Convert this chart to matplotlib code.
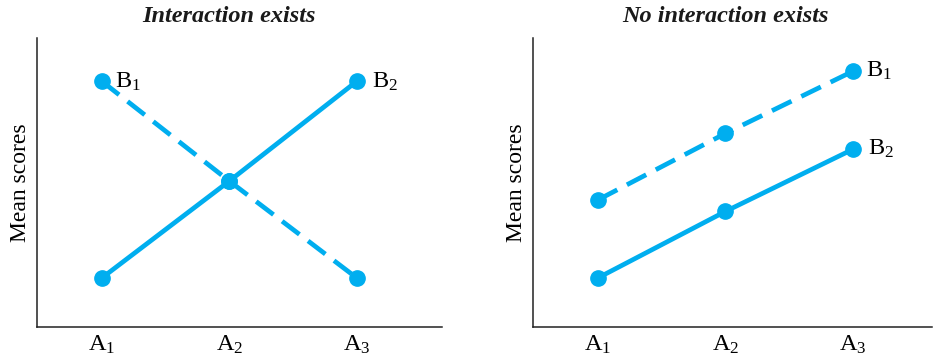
import matplotlib
matplotlib.use("Agg")
import matplotlib.pyplot as plt

plt.rcParams["font.family"] = ["Liberation Serif", "DejaVu Serif"]
plt.rcParams["mathtext.fontset"] = "custom"
plt.rcParams["mathtext.rm"] = "Liberation Serif"
plt.rcParams["mathtext.it"] = "Liberation Serif:italic"

levels_a = [1, 2, 3]
tick_labels = [r"$\mathrm{A}_1$", r"$\mathrm{A}_2$", r"$\mathrm{A}_3$"]

# Panel 1: interaction exists
inter_b1 = [8.5, 5.05, 1.7]
inter_b2 = [1.7, 5.05, 8.5]

# Panel 2: no interaction
nointer_b1 = [4.4, 6.7, 8.85]
nointer_b2 = [1.7, 4.0, 6.15]

titles = ["Interaction exists", "No interaction exists"]
color = "#00AEEF"

fig = plt.figure(figsize=(9.34, 3.63), dpi=100)
ax1 = fig.add_axes([37 / 934, 36 / 363, 405 / 934, 289 / 363])
ax2 = fig.add_axes([533 / 934, 36 / 363, 399 / 934, 289 / 363])


def draw(ax, b1, b2, title, xmax, b1_pos, b2_pos):
    ax.plot(levels_a, b1, color=color, lw=3.4, ls=(0, (4.6, 2.3)),
            marker="o", ms=11, solid_capstyle="butt", zorder=3)
    ax.plot(levels_a, b2, color=color, lw=3.4, ls="-",
            marker="o", ms=11, zorder=3)
    ax.set_xlim(0.49, xmax)
    ax.set_ylim(0, 10)
    for s in ["top", "right"]:
        ax.spines[s].set_visible(False)
    for s in ["left", "bottom"]:
        ax.spines[s].set_linewidth(1.1)
        ax.spines[s].set_color("#222222")
    ax.set_xticks(levels_a)
    ax.set_xticklabels(tick_labels, fontsize=17.5)
    ax.tick_params(axis="x", length=0, pad=5)
    ax.set_yticks([])
    ax.set_ylabel("Mean scores", fontsize=17, labelpad=4)
    ax.text(2, 10.76, title, ha="center", va="center", fontsize=17.5,
            fontweight="bold", fontstyle="italic", color="#1a1a1a")
    ax.annotate(r"$\mathrm{B}_1$", b1_pos, fontsize=17.5, ha="left", va="center")
    ax.annotate(r"$\mathrm{B}_2$", b2_pos, fontsize=17.5, ha="left", va="center")


draw(ax1, inter_b1, inter_b2, titles[0], 3.67,
     (levels_a[0] + 0.1, inter_b1[0]),
     (levels_a[2] + 0.12, inter_b2[2]))
draw(ax2, nointer_b1, nointer_b2, titles[1], 3.62,
     (levels_a[2] + 0.1, nointer_b1[2]),
     (levels_a[2] + 0.12, nointer_b2[2]))

fig.savefig("out.png", dpi=100, facecolor="white")
